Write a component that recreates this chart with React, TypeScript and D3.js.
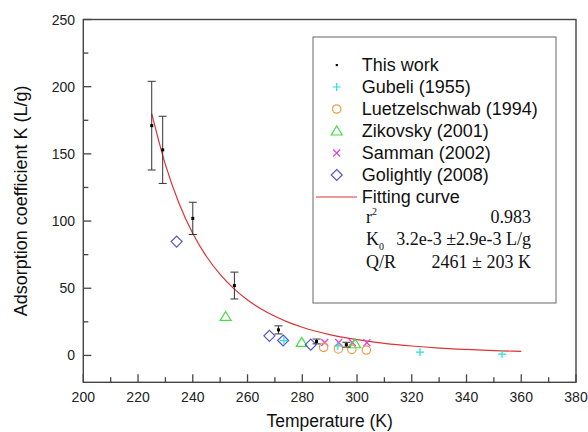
import React from "react";
import * as d3 from "d3";

// This work (T, K, error)
const thisWorkT = [225, 229, 240, 255.2, 271.3, 285.2, 296.1];
const thisWorkK = [171, 153, 102, 52, 19, 10.4, 8];
const thisWorkErr = [33, 25, 12, 10, 3, 1.8, 1.8];

const gubeliT = [273.3, 293, 323, 353];
const gubeliK = [11, 7, 2.5, 1];

const luetzT = [287.8, 293.2, 298.1, 303.4];
const luetzK = [6, 4.8, 4.5, 4];

const zikovskyT = [252, 279.8, 299.3];
const zikovskyK = [29, 9.7, 8.7];

const sammanT = [288.2, 293.3, 298.3, 303.6];
const sammanK = [9.6, 9.6, 9.6, 9.4];

const golightlyT = [234.1, 268, 273, 283.1];
const golightlyK = [84.7, 14.6, 11.1, 8];

// Fitting curve
const fitT = [225, 230, 235, 240, 245, 250, 255, 260, 265, 270, 275, 280, 290, 300, 310, 320, 330, 340, 350, 360];
const fitK = [180, 142, 113, 90.7, 73.6, 60.3, 49.7, 41.3, 34.6, 29.1, 24.6, 21.0, 15.5, 11.7, 9.0, 7.0, 5.5, 4.45, 3.6, 3.0];

const xTicks = [200, 220, 240, 260, 280, 300, 320, 340, 360, 380];
const yTicks = [0, 50, 100, 150, 200, 250];

const legendLabels = [
  "This work",
  "Gubeli (1955)",
  "Luetzelschwab (1994)",
  "Zikovsky (2001)",
  "Samman (2002)",
  "Golightly (2008)",
  "Fitting curve",
];

const C_CYAN = "#22e0e0";
const C_ORANGE = "#ee9a40";
const C_GREEN = "#44dd44";
const C_MAGENTA = "#dd44dd";
const C_BLUE = "#5555cc";
const C_RED = "#dd3333";
const C_AXIS = "#444";

const W = 588;
const H = 432;
const L = 83.3, R = 576, T = 19.5, B = 382.3;

const x = d3.scaleLinear().domain([200, 380]).range([L, R]);
const y = d3.scaleLinear().domain([-20, 250]).range([B, T]);

const Plus = ({ cx, cy, s = 4, color }: any) => (
  <path d={`M${cx - s},${cy}H${cx + s}M${cx},${cy - s}V${cy + s}`} stroke={color} strokeWidth={1.2} fill="none" />
);
const Circ = ({ cx, cy, color }: any) => (
  <circle cx={cx} cy={cy} r={4.2} stroke={color} strokeWidth={1.2} fill="none" />
);
const Tri = ({ cx, cy, color }: any) => (
  <path d={`M${cx},${cy - 5}L${cx + 5.5},${cy + 4}L${cx - 5.5},${cy + 4}Z`} stroke={color} strokeWidth={1.2} fill="none" />
);
const Cross = ({ cx, cy, s = 3.5, color }: any) => (
  <path d={`M${cx - s},${cy - s}L${cx + s},${cy + s}M${cx - s},${cy + s}L${cx + s},${cy - s}`} stroke={color} strokeWidth={1.2} fill="none" />
);
const Diam = ({ cx, cy, color }: any) => (
  <path d={`M${cx},${cy - 5.5}L${cx + 5.5},${cy}L${cx},${cy + 5.5}L${cx - 5.5},${cy}Z`} stroke={color} strokeWidth={1.2} fill="none" />
);
const Dot = ({ cx, cy }: any) => <rect x={cx - 1.5} y={cy - 1.5} width={3} height={3} fill="#000" />;

export default function App() {
  const line = d3
    .line<number>()
    .x((_, i) => x(fitT[i]))
    .y((d) => y(d))
    .curve(d3.curveMonotoneX);

  const minorX = d3.range(210, 380, 20);
  const minorY = d3.range(-25, 250, 50).filter((v) => v > -20);

  const legX = 313, legY = 37, legW = 243, legH = 266;
  const rowY = (i: number) => 65 + i * 22;
  const symX = 336.7;
  const txtX = 361.7;

  return (
    <svg width={W} height={H} style={{ position: "absolute", left: 0, top: 0 }}>
      <rect width={W} height={H} fill="#fff" />
      {/* frame */}
      <rect x={L} y={T} width={R - L} height={B - T} fill="none" stroke={C_AXIS} strokeWidth={1.4} />
      {/* x ticks */}
      {xTicks.map((t) => (
        <g key={"xt" + t}>
          <line x1={x(t)} x2={x(t)} y1={B} y2={B - 8} stroke={C_AXIS} strokeWidth={1.3} />
          <text x={x(t)} y={402} textAnchor="middle" fontFamily="Liberation Sans, Arial" fontSize={14} fill="#222">{t}</text>
        </g>
      ))}
      {minorX.map((t) => (
        <line key={"xm" + t} x1={x(t)} x2={x(t)} y1={B} y2={B - 5} stroke={C_AXIS} strokeWidth={1.3} />
      ))}
      {yTicks.map((t) => (
        <g key={"yt" + t}>
          <line x1={L} x2={L + 8} y1={y(t)} y2={y(t)} stroke={C_AXIS} strokeWidth={1.3} />
          <text x={75} y={y(t) + 5} textAnchor="end" fontFamily="Liberation Sans, Arial" fontSize={14} fill="#222">{t}</text>
        </g>
      ))}
      {minorY.map((t) => (
        <line key={"ym" + t} x1={L} x2={L + 5} y1={y(t)} y2={y(t)} stroke={C_AXIS} strokeWidth={1.3} />
      ))}
      {/* axis titles */}
      <text x={(L + R) / 2} y={427} textAnchor="middle" fontFamily="Liberation Sans, Arial" fontSize={17.5} fill="#111">Temperature (K)</text>
      <text transform={`translate(27,${(T + B) / 2}) rotate(-90)`} textAnchor="middle" fontFamily="Liberation Sans, Arial" fontSize={18} fill="#111">Adsorption coefficient K (L/g)</text>

      {/* fitting curve */}
      <path d={line(fitK) || ""} fill="none" stroke={C_RED} strokeWidth={1.2} />

      {/* data */}
      {sammanT.map((t, i) => <Cross key={"s" + i} cx={x(t)} cy={y(sammanK[i])} color={C_MAGENTA} />)}
      {luetzT.map((t, i) => <Circ key={"l" + i} cx={x(t)} cy={y(luetzK[i])} color={C_ORANGE} />)}
      {zikovskyT.map((t, i) => <Tri key={"z" + i} cx={x(t)} cy={y(zikovskyK[i])} color={C_GREEN} />)}
      {golightlyT.map((t, i) => <Diam key={"g" + i} cx={x(t)} cy={y(golightlyK[i])} color={C_BLUE} />)}
      {gubeliT.map((t, i) => <Plus key={"u" + i} cx={x(t)} cy={y(gubeliK[i])} color={C_CYAN} />)}
      {thisWorkT.map((t, i) => {
        const cx = x(t);
        const y1 = y(thisWorkK[i] + thisWorkErr[i]);
        const y2 = y(thisWorkK[i] - thisWorkErr[i]);
        return (
          <g key={"w" + i}>
            <path d={`M${cx},${y1}V${y2}M${cx - 4},${y1}H${cx + 4}M${cx - 4},${y2}H${cx + 4}`} stroke="#333" strokeWidth={1} fill="none" />
            <Dot cx={cx} cy={y(thisWorkK[i])} />
          </g>
        );
      })}

      {/* legend */}
      <rect x={legX} y={legY} width={legW} height={legH} fill="#fff" stroke="#666" strokeWidth={1} />
      <rect x={symX - 1} y={rowY(0) - 1} width={2.2} height={2.2} fill="#000" />
      <Plus cx={symX} cy={rowY(1)} s={4} color={C_CYAN} />
      <Circ cx={symX} cy={rowY(2)} color={C_ORANGE} />
      <Tri cx={symX} cy={rowY(3)} color={C_GREEN} />
      <Cross cx={symX} cy={rowY(4)} color={C_MAGENTA} />
      <Diam cx={symX} cy={rowY(5)} color={C_BLUE} />
      <line x1={316} x2={357} y1={rowY(6)} y2={rowY(6)} stroke={C_RED} strokeWidth={1.2} />
      {legendLabels.map((lab, i) => (
        <text key={lab} x={txtX} y={rowY(i) + 6} fontFamily="Liberation Sans, Arial" fontSize={18} fill="#111">{lab}</text>
      ))}
      <g fontFamily="Liberation Serif, Times New Roman" fontSize={18} fill="#111">
        <text x={366} y={223}>r<tspan dy={-8} fontSize={10}>2</tspan></text>
        <text x={531} y={223} textAnchor="end">0.983</text>
        <text x={366} y={245}>K<tspan dy={5} fontSize={10}>0</tspan></text>
        <text x={531} y={245} textAnchor="end">3.2e-3 ±2.9e-3 L/g</text>
        <text x={366} y={268}>Q/R</text>
        <text x={531} y={268} textAnchor="end">2461 ± 203 K</text>
      </g>
    </svg>
  );
}
